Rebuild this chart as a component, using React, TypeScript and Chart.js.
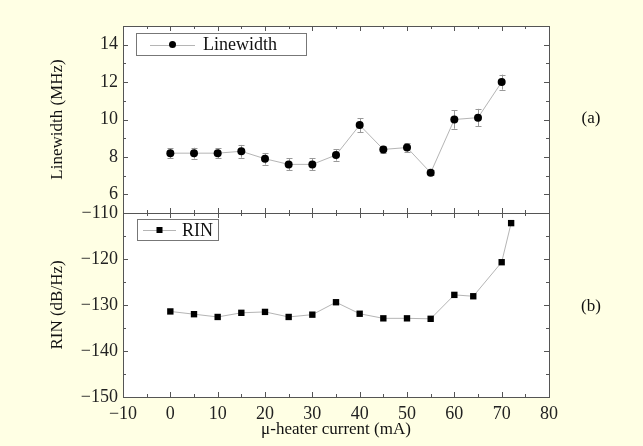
import React, { useEffect, useRef } from 'react';
import { Chart, registerables } from 'chart.js';

Chart.register(...registerables);

// ---- data ----
const currentLW = [0, 5, 10, 15, 20, 25, 30, 35, 40, 45, 50, 55, 60, 65, 70];
const linewidth = [8.2, 8.2, 8.2, 8.3, 7.9, 7.6, 7.6, 8.1, 9.7, 8.4, 8.5, 7.15, 10.0, 10.1, 12.0];
const linewidthErr = [0.26, 0.29, 0.26, 0.34, 0.31, 0.32, 0.32, 0.3, 0.38, 0.18, 0.23, 0.13, 0.49, 0.47, 0.4];
const currentRIN = [0, 5, 10, 15, 20, 25, 30, 35, 40, 45, 50, 55, 60, 64, 70, 72];
const rin = [-131.4, -132.0, -132.6, -131.7, -131.5, -132.6, -132.1, -129.4, -131.9, -132.9, -132.9, -133.0, -127.8, -128.1, -120.7, -112.2];

const xMin = -10, xMax = 80;
const lwMin = 5, lwMax = 15;
const rinMin = -150, rinMax = -110;

const FONT = '"Liberation Serif", "Times New Roman", serif';
const minus = (v: number) => String(v).replace('-', '\u2212');

const frameTicks = {
  id: 'frameTicks',
  beforeDraw(chart: any) {
    const { ctx, chartArea: a } = chart;
    ctx.save();
    ctx.fillStyle = '#ffffff';
    ctx.fillRect(a.left, a.top, a.right - a.left, a.bottom - a.top);
    ctx.restore();
  },
  afterDraw(chart: any) {
    const { ctx, chartArea: a } = chart;
    const xs = chart.scales.x, ys = chart.scales.y;
    ctx.save();
    ctx.strokeStyle = '#555';
    ctx.lineWidth = 1;
    ctx.beginPath();
    xs.ticks.forEach((t: any) => {
      const px = Math.round(xs.getPixelForValue(t.value)) + 0.5;
      const len = t.label ? 5 : 3;
      ctx.moveTo(px, a.bottom); ctx.lineTo(px, a.bottom - len);
      ctx.moveTo(px, a.top); ctx.lineTo(px, a.top + len);
    });
    ys.ticks.forEach((t: any) => {
      const py = Math.round(ys.getPixelForValue(t.value)) + 0.5;
      const len = t.label ? 5 : 3;
      ctx.moveTo(a.left, py); ctx.lineTo(a.left + len, py);
      ctx.moveTo(a.right, py); ctx.lineTo(a.right - len, py);
    });
    ctx.stroke();
    ctx.strokeRect(Math.round(a.left) + 0.5, Math.round(a.top) + 0.5, Math.round(a.right - a.left), Math.round(a.bottom - a.top));
    ctx.restore();
  },
};

const errorBars = {
  id: 'errorBars',
  beforeDatasetsDraw(chart: any, _args: any, opts: any) {
    if (!opts || !opts.errors) return;
    const { ctx } = chart;
    const ys = chart.scales.y;
    const meta = chart.getDatasetMeta(0);
    const vals = chart.data.datasets[0].data;
    ctx.save();
    ctx.strokeStyle = '#999';
    ctx.lineWidth = 1;
    ctx.beginPath();
    meta.data.forEach((pt: any, i: number) => {
      const e = opts.errors[i];
      const v = vals[i].y;
      const x = Math.round(pt.x) + 0.5;
      const y1 = ys.getPixelForValue(v - e);
      const y2 = ys.getPixelForValue(v + e);
      ctx.moveTo(x, y1); ctx.lineTo(x, y2);
      ctx.moveTo(x - 3, Math.round(y1) + 0.5); ctx.lineTo(x + 3, Math.round(y1) + 0.5);
      ctx.moveTo(x - 3, Math.round(y2) + 0.5); ctx.lineTo(x + 3, Math.round(y2) + 0.5);
    });
    ctx.stroke();
    ctx.restore();
  },
};

const boxLegend = {
  id: 'boxLegend',
  afterDraw(chart: any, _args: any, opts: any) {
    if (!opts || !opts.box) return;
    const { ctx } = chart;
    const [bx, by, bw, bh] = opts.box;
    const ds = chart.data.datasets[0];
    ctx.save();
    ctx.fillStyle = '#fff';
    ctx.fillRect(bx, by, bw, bh);
    ctx.strokeStyle = '#777';
    ctx.lineWidth = 1;
    ctx.strokeRect(bx + 0.5, by + 0.5, bw, bh);
    const cy = by + bh / 2 + 0.5;
    const [l1, l2] = opts.line;
    ctx.strokeStyle = '#b5b5b5';
    ctx.beginPath();
    ctx.moveTo(l1, Math.round(cy) + 0.5); ctx.lineTo(l2, Math.round(cy) + 0.5);
    ctx.stroke();
    const mx = (l1 + l2) / 2;
    ctx.fillStyle = '#000';
    if (opts.marker === 'circle') {
      ctx.beginPath();
      ctx.arc(mx, cy, 3.5, 0, Math.PI * 2);
      ctx.fill();
    } else {
      ctx.fillRect(mx - 3, cy - 3, 6, 6);
    }
    ctx.fillStyle = '#111';
    ctx.font = `18px ${FONT}`;
    ctx.textBaseline = 'middle';
    ctx.textAlign = 'left';
    ctx.fillText(ds.label, opts.textX, cy + 1);
    ctx.restore();
  },
};

const W = 643, H = 446;
const LEFT = 123, RIGHT = 549, TOP = 26, MID = 213, BOTTOM = 397;

export default function App() {
  const topRef = useRef<HTMLCanvasElement>(null);
  const botRef = useRef<HTMLCanvasElement>(null);

  useEffect(() => {
    const tickFont = { family: FONT, size: 18 };
    const titleFont = { family: FONT, size: 17 };
    const top = new Chart(topRef.current!, {
      type: 'line',
      data: {
        datasets: [{
          label: 'Linewidth',
          data: currentLW.map((x, i) => ({ x, y: linewidth[i] })),
          borderColor: '#b5b5b5',
          borderWidth: 1,
          pointStyle: 'circle',
          pointRadius: 4,
          pointBackgroundColor: '#000',
          pointBorderColor: '#000',
          pointBorderWidth: 0,
          tension: 0,
        }],
      },
      options: {
        animation: false,
        responsive: false,
        devicePixelRatio: 1,
        layout: { padding: { top: TOP, left: 0, right: W - RIGHT, bottom: H - MID } },
        plugins: {
          legend: { display: false },
          tooltip: { enabled: false },
          errorBars: { errors: linewidthErr },
          boxLegend: { box: [136, 33, 170, 22], line: [150, 195], marker: 'circle', textX: 203 },
        } as any,
        scales: {
          x: {
            type: 'linear', min: xMin, max: xMax,
            ticks: { stepSize: 5, display: false, autoSkip: false, callback: (v: any) => (v % 10 === 0 ? String(v) : '') },
            grid: { display: false }, border: { display: false },
            afterFit: (s: any) => { s.height = 0; },
          },
          y: {
            type: 'linear', min: lwMin, max: lwMax,
            ticks: {
              stepSize: 1, autoSkip: false, padding: 5, color: '#222', font: tickFont,
              callback: (v: any) => (v % 2 === 0 && v > lwMin && v < lwMax ? String(v) : ''),
            },
            grid: { display: false, drawTicks: false }, border: { display: false },
            title: { display: true, text: 'Linewidth (MHz)', color: '#111', font: titleFont, padding: { top: 47, bottom: 0 } },
            afterFit: (s: any) => { s.width = LEFT; },
          },
        },
      } as any,
      plugins: [frameTicks, errorBars, boxLegend],
    });

    const bot = new Chart(botRef.current!, {
      type: 'line',
      data: {
        datasets: [{
          label: 'RIN',
          data: currentRIN.map((x, i) => ({ x, y: rin[i] })),
          borderColor: '#b5b5b5',
          borderWidth: 1,
          pointStyle: 'rect',
          pointRadius: 4.5,
          pointBackgroundColor: '#000',
          pointBorderColor: '#000',
          pointBorderWidth: 0,
          tension: 0,
        }],
      },
      options: {
        animation: false,
        responsive: false,
        devicePixelRatio: 1,
        layout: { padding: { top: MID, left: 0, right: W - RIGHT, bottom: 0 } },
        plugins: {
          legend: { display: false },
          tooltip: { enabled: false },
          boxLegend: { box: [137, 219, 81, 21], line: [143, 176], marker: 'rect', textX: 182 },
        } as any,
        scales: {
          x: {
            type: 'linear', min: xMin, max: xMax,
            ticks: {
              stepSize: 5, autoSkip: false, maxRotation: 0, padding: 6, color: '#222', font: tickFont,
              callback: (v: any) => (v % 10 === 0 ? minus(v) : ''),
            },
            grid: { display: false, drawTicks: false }, border: { display: false },
            title: { display: true, text: '\u03bc-heater current (mA)', color: '#111', font: titleFont, padding: { top: 0, bottom: 6 } },
            afterFit: (s: any) => { s.height = H - BOTTOM; },
          },
          y: {
            type: 'linear', min: rinMin, max: rinMax,
            ticks: {
              stepSize: 5, autoSkip: false, padding: 5, color: '#222', font: tickFont,
              callback: (v: any) => (v % 10 === 0 ? minus(v) : ''),
            },
            grid: { display: false, drawTicks: false }, border: { display: false },
            title: { display: true, text: 'RIN (dB/Hz)', color: '#111', font: titleFont, padding: { top: 47, bottom: 0 } },
            afterFit: (s: any) => { s.width = LEFT; },
          },
        },
      } as any,
      plugins: [frameTicks, boxLegend],
    });

    return () => { top.destroy(); bot.destroy(); };
  }, []);

  const labelStyle: React.CSSProperties = {
    position: 'absolute', fontFamily: FONT, fontSize: 17, color: '#111',
    lineHeight: '20px', transform: 'translate(-50%, -50%)', whiteSpace: 'nowrap',
  };

  return (
    <div style={{ position: 'fixed', left: 0, top: 0, width: W, height: H, background: '#ffffe4', overflow: 'hidden' }}>
      <canvas ref={topRef} width={W} height={H} style={{ position: 'absolute', left: 0, top: 0, width: W, height: H }} />
      <canvas ref={botRef} width={W} height={H} style={{ position: 'absolute', left: 0, top: 0, width: W, height: H }} />
      <div style={{ ...labelStyle, left: 591, top: 118 }}>(a)</div>
      <div style={{ ...labelStyle, left: 591, top: 306 }}>(b)</div>
    </div>
  );
}
